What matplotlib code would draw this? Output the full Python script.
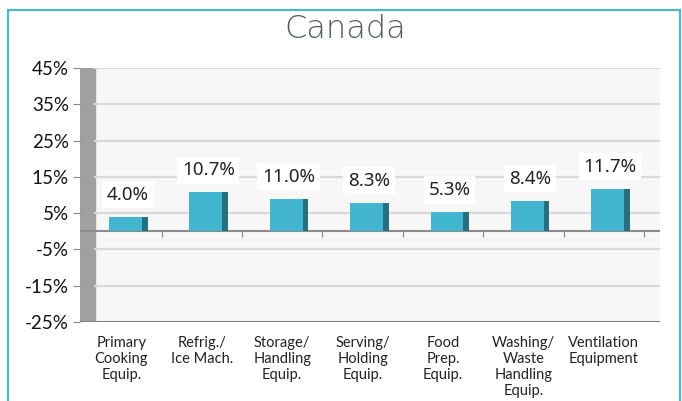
import matplotlib
matplotlib.use("Agg")
import matplotlib.pyplot as plt
from matplotlib.patches import Rectangle

categories = ["Primary\nCooking\nEquip.", "Refrig./\nIce Mach.", "Storage/\nHandling\nEquip.",
              "Serving/\nHolding\nEquip.", "Food\nPrep.\nEquip.", "Washing/\nWaste\nHandling\nEquip.",
              "Ventilation\nEquipment"]
# bar heights as drawn (%), and the labels printed above them
bar_values = [4.0, 10.7, 8.9, 7.8, 5.3, 8.4, 11.7]
bar_labels = ["4.0%", "10.7%", "11.0%", "8.3%", "5.3%", "8.4%", "11.7%"]
y_ticks = [45, 35, 25, 15, 5, -5, -15, -25]

face = "#41b6ce"
side = "#25707f"

fig = plt.figure(figsize=(6.82, 4.01), dpi=100)
ax = fig.add_axes([80 / 682, 1 - 322 / 401, 580 / 682, 254 / 401])

x0 = -0.516
wall = -0.33
ax.set_xlim(x0, 6.70)
ax.set_ylim(-25, 45)

# back panel + left wall
ax.axvspan(wall, 6.70, color="#f7f7f7", zorder=0)
ax.axvspan(x0, wall, color="#a0a0a0", zorder=1)
for y in y_ticks:
    if y == -25:
        continue
    ax.plot([wall, 6.70], [y, y], color="#d9d9d9", lw=1.6, zorder=1)
ax.axhline(0, color="#8c8c8c", lw=1.5, zorder=2)
ax.axhline(-25, color="#808080", lw=1.5, zorder=2)

# bars with a darker side face
w = 0.41
sw = 0.07
for i, v in enumerate(bar_values):
    xc = i + 0.05
    ax.bar(xc, v, width=w, color=face, zorder=3)
    ax.bar(xc + w / 2 + sw / 2 - 0.001, v, width=sw, color=side, zorder=3)
    ax.annotate(bar_labels[i], (xc + 0.03, v), xytext=(0, 16), textcoords="offset points",
                ha="center", va="center", fontsize=13.5, family="Noto Sans",
                color="#222222", zorder=4,
                bbox=dict(boxstyle="square,pad=0.25", fc="white", ec="none"))

for s in ax.spines.values():
    s.set_visible(False)

# category tick marks on the zero line
ax.set_xticks([i + 0.5 for i in range(7)])
ax.set_xticklabels([])
ax.spines["bottom"].set_position(("data", 0))
ax.tick_params(axis="x", length=4, color="#888888", direction="out")

sec = ax.secondary_xaxis("bottom")
sec.set_xticks(range(len(categories)))
sec.set_xticklabels(categories, fontsize=10.5, family="Lato", color="#222222", linespacing=1.2)
sec.tick_params(length=0, pad=10)
sec.spines["bottom"].set_visible(False)

ax.set_yticks(y_ticks)
ax.set_yticklabels([f"{t}%" for t in y_ticks], fontsize=13.5, family="Lato", color="#111111")
ax.tick_params(axis="y", length=5, color="#888888", pad=3)

fig.text(345.5 / 682, 1 - 29 / 401, "Canada", ha="center", va="center", fontsize=23,
         family="DejaVu Sans", weight="light", color="#555a5e")

fig.patches.append(Rectangle((8 / 682, -0.1), (680 - 8) / 682, 1.1 - 10 / 401,
                             transform=fig.transFigure, fill=False, ec="#4bb8c8", lw=1.6))

fig.savefig("out.png", dpi=100, facecolor="white")
